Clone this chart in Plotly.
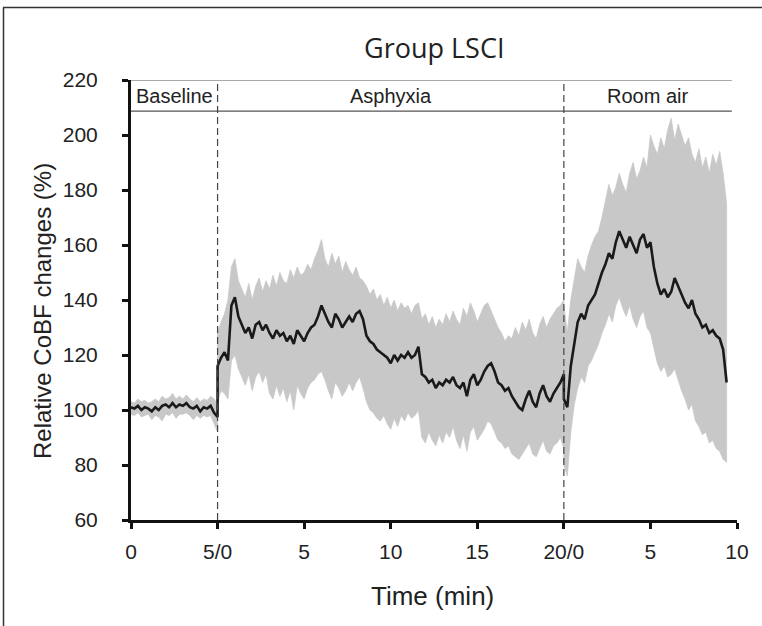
import numpy as np
import plotly.graph_objects as go

# ---------------- data ----------------
phase_names = ["Baseline", "Asphyxia", "Room air"]
phase_bounds = [0, 5, 25, 34.7]          # total minutes
tick_vals = [0, 5, 10, 15, 20, 25, 30, 35]
tick_text = ["0", "5/0", "5", "10", "15", "20/0", "5", "10"]
y_ticks = [60, 80, 100, 120, 140, 160, 180, 200, 220]

# Baseline, 0-5 min, every 0.2 min
baseline_mean = [101, 100.5, 101.5, 100, 101, 100.5, 99.5, 101, 100, 101.5,
                 102, 101, 102.5, 101, 102, 101.5, 102.5, 101, 100.5, 101.5,
                 99.5, 101, 100.5, 101.5, 99, 97.5]
baseline_upper = [103, 102.5, 104, 103, 103.5, 102.5, 103, 104, 103, 105,
                  104, 104.5, 106, 104, 105, 104, 105.5, 104, 103, 104.5,
                  103, 104, 103.5, 105, 104, 102]
baseline_lower = [98.5, 98, 99, 97.5, 98, 98.5, 96.5, 98, 97.5, 96,
                  98.5, 98, 99, 97, 98.5, 98.5, 99, 98, 96.5, 98,
                  97, 98, 97.5, 98, 95, 92]

# Asphyxia, 0-20 min, every 0.2 min
asphyxia_mean = [116, 119, 121, 118, 138, 141, 134, 131, 128, 130,
                 126, 131, 132, 129, 131, 128, 126, 129, 127, 128,
                 125, 127, 124, 129, 127, 125, 128, 130, 131, 134,
                 138, 135, 132, 130, 135, 133, 130, 132, 134, 132,
                 135, 136, 133, 127, 125, 124, 122, 121, 120, 119,
                 117, 120, 118, 120, 119, 121, 119, 120, 123, 113,
                 112, 110, 111, 108, 110, 109, 111, 110, 112, 109,
                 108, 110, 105, 111, 113, 109, 111, 114, 116, 117,
                 114, 110, 109, 107, 108, 105, 103, 101, 100, 104,
                 107, 103, 101, 106, 109, 105, 103, 106, 108, 110,
                 113]
asphyxia_upper = [128, 132, 135, 140, 152, 155, 147, 144, 141, 146,
                  140, 145, 148, 143, 147, 144, 149, 145, 150, 147,
                  146, 151, 148, 152, 149, 150, 153, 151, 155, 158,
                  162, 155, 152, 157, 153, 156, 150, 154, 151, 149,
                  152, 148, 147, 145, 142, 144, 140, 142, 138, 141,
                  137, 140, 136, 139, 137, 138, 135, 138, 139, 133,
                  135, 131, 134, 130, 133, 131, 135, 132, 136, 133,
                  131, 137, 134, 139, 136, 132, 135, 138, 139, 136,
                  133, 130, 128, 125, 127, 126, 130, 127, 132, 129,
                  133, 128, 126, 131, 134, 130, 133, 135, 137, 138,
                  140]
asphyxia_lower = [103, 107, 106, 104, 118, 120, 115, 112, 109, 113,
                  107, 112, 114, 110, 113, 106, 104, 109, 105, 108,
                  103, 107, 100, 109, 106, 104, 108, 110, 111, 113,
                  114, 111, 107, 104, 110, 108, 105, 107, 110, 107,
                  110, 112, 108, 103, 100, 99, 97, 96, 98, 95,
                  93, 97, 94, 98, 96, 99, 97, 98, 100, 90,
                  88, 92, 89, 87, 91, 88, 92, 90, 94, 89,
                  86, 91, 85, 92, 94, 89, 91, 93, 96, 95,
                  92, 89, 88, 86, 87, 84, 83, 82, 84, 86,
                  88, 84, 83, 86, 89, 85, 84, 87, 88, 90,
                  86]

# Room air, 0-9.4 min, every 0.2 min
roomair_mean = [104, 101, 116, 124, 132, 135, 133, 138, 140, 142,
                146, 150, 153, 157, 155, 161, 165, 162, 159, 163,
                160, 157, 162, 164, 159, 161, 152, 146, 142, 144,
                141, 143, 148, 145, 142, 139, 137, 140, 135, 133,
                130, 131, 128, 129, 127, 126, 122, 110]
roomair_upper = [138, 128, 140, 148, 155, 152, 150, 156, 160, 163,
                 165, 170, 176, 182, 178, 181, 186, 182, 179, 186,
                 190, 184, 187, 192, 188, 200, 196, 193, 199, 195,
                 202, 206, 198, 204, 200, 196, 199, 193, 190, 195,
                 188, 192, 186, 193, 189, 194, 186, 175]
roomair_lower = [80, 76, 92, 102, 108, 112, 110, 116, 118, 121,
                 124, 128, 131, 135, 132, 138, 141, 137, 134, 138,
                 133, 130, 134, 136, 130, 128, 122, 117, 114, 116,
                 112, 113, 115, 111, 107, 104, 100, 102, 96, 94,
                 91, 92, 88, 89, 86, 85, 82, 81]

# ---------------- assemble ----------------
step = 0.2
t_base = phase_bounds[0] + np.arange(len(baseline_mean)) * step
t_asph = phase_bounds[1] + np.arange(len(asphyxia_mean)) * step
t_room = phase_bounds[2] + np.arange(len(roomair_mean)) * step
for a, b, c in [(baseline_mean, baseline_upper, baseline_lower),
                (asphyxia_mean, asphyxia_upper, asphyxia_lower),
                (roomair_mean, roomair_upper, roomair_lower)]:
    assert len(a) == len(b) == len(c), (len(a), len(b), len(c))

t = np.concatenate([t_base, t_asph, t_room])
mean = np.concatenate([baseline_mean, asphyxia_mean, roomair_mean])
upper = np.concatenate([baseline_upper, asphyxia_upper, roomair_upper])
lower = np.concatenate([baseline_lower, asphyxia_lower, roomair_lower])

fig = go.Figure()
fig.add_trace(go.Scatter(
    x=np.concatenate([t, t[::-1]]),
    y=np.concatenate([upper, lower[::-1]]),
    fill="toself", fillcolor="#c8c8c8", mode="lines",
    line=dict(color="#c8c8c8", width=0.8), hoverinfo="skip", showlegend=False))
fig.add_trace(go.Scatter(
    x=t, y=mean, mode="lines", line=dict(color="#1a1a1a", width=2.6),
    showlegend=False))

# header lines
head_low = 208.7
for yv in [220, head_low]:
    fig.add_shape(type="line", xref="x", yref="y", x0=0, x1=phase_bounds[-1],
                  y0=yv, y1=yv, line=dict(color="#555555", width=1.2))
# dashed phase separators
for xv in phase_bounds[1:3]:
    fig.add_shape(type="line", xref="x", yref="y", x0=xv, x1=xv, y0=60, y1=220,
                  line=dict(color="#444444", width=1.2, dash="7px,4px"))

arial = "Arial, Liberation Sans, sans-serif"
for i, name in enumerate(phase_names):
    fig.add_annotation(x=(phase_bounds[i] + phase_bounds[i + 1]) / 2, y=214.3,
                       xref="x", yref="y", text=name, showarrow=False,
                       font=dict(family=arial, size=20, color="#222222"),
                       xanchor="center", yanchor="middle")

# body margin is removed in the page, so screen coords == figure coords
W, H = 762, 626
L, R, T, B = 131, 737, 80, 520
def px(xs):
    return (xs - L) / (R - L)
def py(ys):
    return (B - ys) / (B - T)

fig.add_annotation(x=0.5, y=py(47), xref="paper", yref="paper", text="Group LSCI",
                   showarrow=False, font=dict(family="Open Sans", size=27, color="#222"),
                   xanchor="center", yanchor="middle")
fig.add_annotation(x=px(432), y=py(596), xref="paper", yref="paper", text="Time (min)",
                   showarrow=False, font=dict(family=arial, size=26, color="#222"),
                   xanchor="center", yanchor="middle")
fig.add_annotation(x=px(42), y=py(311), xref="paper", yref="paper",
                   text="Relative CoBF changes (%)", textangle=-90,
                   showarrow=False, font=dict(family=arial, size=24, color="#222"),
                   xanchor="center", yanchor="middle")

# outer frame (top and left edges)
fig.add_shape(type="line", xref="paper", yref="paper", x0=px(3), x1=px(780),
              y0=py(7.5), y1=py(7.5), line=dict(color="#333", width=1.5))
fig.add_shape(type="line", xref="paper", yref="paper", x0=px(3.5), x1=px(3.5),
              y0=py(7.5), y1=py(660), line=dict(color="#333", width=1.5))

fig.update_xaxes(range=[0, 35], tickvals=tick_vals, ticktext=tick_text,
                 showline=True, linewidth=3, linecolor="#111", ticks="outside",
                 ticklen=6, tickwidth=2.5, tickcolor="#111", showgrid=False,
                 zeroline=False, ticklabelstandoff=5,
                 tickfont=dict(family=arial, size=21, color="#222"))
fig.update_yaxes(range=[60, 220], tickvals=y_ticks, showline=True, linewidth=3,
                 linecolor="#111", ticks="outside", ticklen=6, tickwidth=2.5,
                 tickcolor="#111", showgrid=False, zeroline=False,
                 ticklabelstandoff=20,
                 tickfont=dict(family=arial, size=21, color="#222"))
fig.update_layout(width=W, height=H, margin=dict(l=L, r=W - R, t=T, b=H - B, autoexpand=False),
                  paper_bgcolor="white", plot_bgcolor="white", showlegend=False)
fig.write_html("out.html", config={"displayModeBar": False},
               post_script="document.body.style.margin='0px';document.body.style.padding='0px';")
